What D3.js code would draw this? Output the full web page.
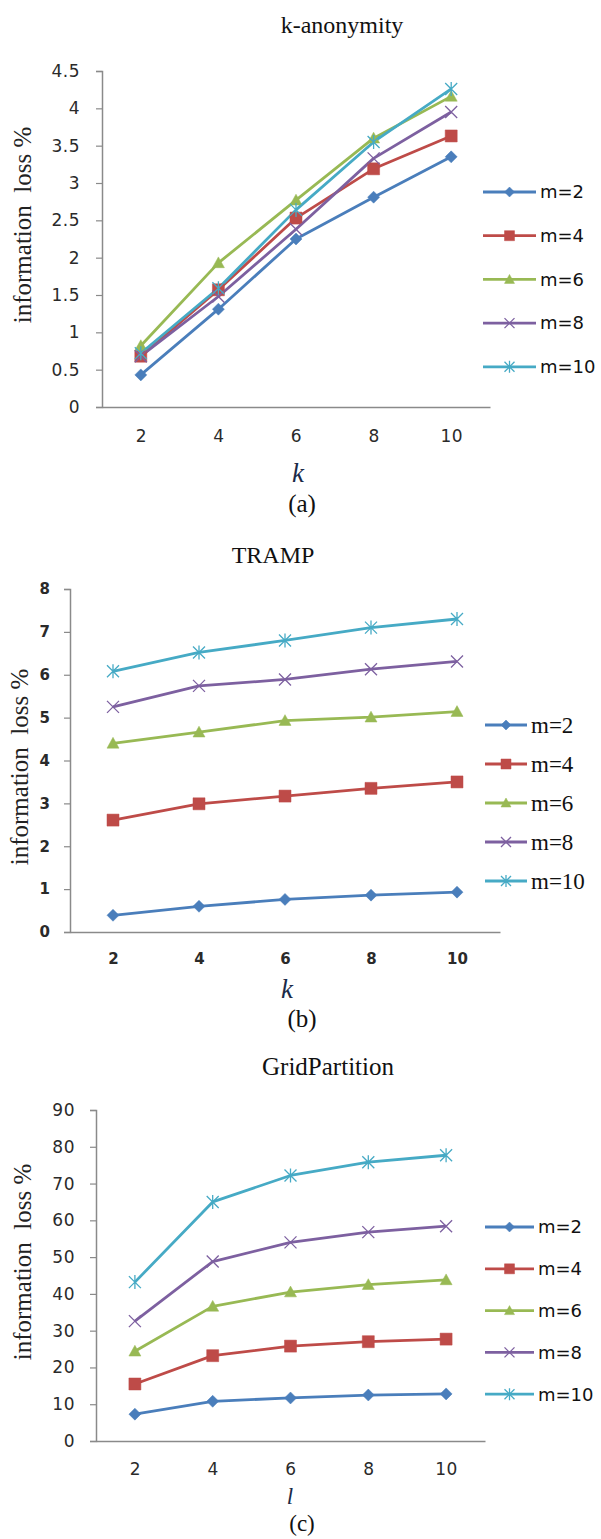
<!DOCTYPE html>
<html><head><meta charset="utf-8">
<script src="https://cdn.jsdelivr.net/npm/d3@7"></script>
<style>body{margin:0;background:#fff}svg{display:block}</style>
</head><body>
<svg id="c" width="601" height="1539"></svg>
<script>
const categories = [2, 4, 6, 8, 10];
const seriesNames = ["m=2", "m=4", "m=6", "m=8", "m=10"];
const colors = ["#4A7EBB", "#BE4B48", "#98B954", "#7D60A0", "#46AAC5"];
const markers = ["diamond", "square", "triangle", "x", "star"];

// (a) k-anonymity
const kAnonValues = [
  [0.43, 1.31, 2.25, 2.81, 3.35],
  [0.68, 1.57, 2.53, 3.19, 3.63],
  [0.82, 1.93, 2.77, 3.60, 4.16],
  [0.68, 1.48, 2.38, 3.33, 3.95],
  [0.72, 1.59, 2.64, 3.55, 4.26]
];
const kAnonTicks = [0, 0.5, 1, 1.5, 2, 2.5, 3, 3.5, 4, 4.5];

// (b) TRAMP
const trampValues = [
  [0.39, 0.60, 0.76, 0.86, 0.93],
  [2.61, 2.99, 3.17, 3.35, 3.50],
  [4.40, 4.66, 4.93, 5.01, 5.14],
  [5.25, 5.74, 5.89, 6.13, 6.31],
  [6.08, 6.52, 6.80, 7.10, 7.30]
];
const trampTicks = [0, 1, 2, 3, 4, 5, 6, 7, 8];

// (c) GridPartition
const gridValues = [
  [7.3, 10.8, 11.7, 12.5, 12.8],
  [15.5, 23.2, 25.8, 27.0, 27.7],
  [24.4, 36.6, 40.5, 42.5, 43.8],
  [32.6, 48.8, 54.0, 56.8, 58.4],
  [43.2, 65.0, 72.2, 75.8, 77.7]
];
const gridTicks = [0, 10, 20, 30, 40, 50, 60, 70, 80, 90];

const svg = d3.select("#c");
const SERIF = "Liberation Serif, Times New Roman, serif";
const SANS = "DejaVu Sans, Verdana, sans-serif";

function markerPath(type, s) {
  const h = s / 2;
  switch (type) {
    case "diamond": return `M0,${-h}L${h},0L0,${h}L${-h},0Z`;
    case "square": return `M${-h},${-h}H${h}V${h}H${-h}Z`;
    case "triangle": return `M0,${-h}L${h},${h*0.8}L${-h},${h*0.8}Z`;
    case "x": return `M${-h},${-h}L${h},${h}M${h},${-h}L${-h},${h}`;
    case "star": return `M${-h},${-h}L${h},${h}M${h},${-h}L${-h},${h}M0,${-h-1}V${h+1}`;
  }
}
function drawMarker(g, type, x, y, color, s) {
  const filled = type !== "x" && type !== "star";
  g.append("path").attr("d", markerPath(type, s))
    .attr("transform", `translate(${x},${y})`)
    .attr("fill", filled ? color : "none")
    .attr("stroke", color)
    .attr("stroke-width", filled ? 0.5 : 1.3);
}

function panel(cfg) {
  const g = svg.append("g");
  const x = d3.scalePoint().domain(categories).range([cfg.left, cfg.right]).padding(0.5);
  const y = d3.scaleLinear().domain([cfg.ticks[0], cfg.ticks[cfg.ticks.length - 1]]).range([cfg.bottom, cfg.top]);

  g.append("text").attr("x", cfg.titleX).attr("y", cfg.titleY)
    .attr("text-anchor", "middle").attr("font-family", SERIF)
    .attr("font-size", cfg.titleSize).attr("fill", "#111").text(cfg.title);

  const ya = g.append("g").attr("transform", `translate(${cfg.left},0)`)
    .call(d3.axisLeft(y).tickValues(cfg.ticks).tickSize(6).tickPadding(cfg.tickPad).tickFormat(d3.format("")));
  ya.select(".domain").attr("stroke", "#8a8a8a").attr("stroke-width", 1.5);
  ya.selectAll(".tick line").attr("stroke", "#8a8a8a").attr("stroke-width", 1.2);
  ya.selectAll(".tick text").attr("font-family", SANS).attr("font-weight", cfg.tickWeight)
    .attr("font-size", cfg.tickSize).attr("letter-spacing", cfg.tickLS).attr("fill", "#2a2a2a");

  const xa = g.append("g").attr("transform", `translate(0,${cfg.bottom})`)
    .call(d3.axisBottom(x).tickSize(0).tickPadding(cfg.xPad));
  xa.select(".domain").attr("stroke", "#8a8a8a").attr("stroke-width", 1.5);
  xa.selectAll(".tick text").attr("font-family", SANS).attr("font-weight", cfg.tickWeight)
    .attr("font-size", cfg.tickSize).attr("letter-spacing", cfg.tickLS).attr("fill", "#2a2a2a");

  g.append("text").attr("transform", `translate(${cfg.yLabelX},${cfg.yLabelY}) rotate(-90)`)
    .attr("text-anchor", "middle").attr("font-family", SERIF).style("white-space", "pre")
    .attr("font-size", cfg.yLabelSize).attr("fill", "#222").text("information  loss %");
  g.append("text").attr("x", cfg.xLabelX).attr("y", cfg.xLabelY)
    .attr("text-anchor", "middle").attr("font-family", SERIF)
    .attr("font-style", "italic").attr("font-size", cfg.xLabelSize).attr("fill", "#1a2a48").text(cfg.xLabel);
  g.append("text").attr("x", cfg.capX).attr("y", cfg.capY)
    .attr("text-anchor", "middle").attr("font-family", SERIF)
    .attr("font-size", cfg.capSize).attr("fill", "#111").text(cfg.caption);

  const line = d3.line().x((d, i) => x(categories[i])).y(d => y(d));
  cfg.values.forEach((vals, si) => {
    g.append("path").attr("d", line(vals)).attr("fill", "none")
      .attr("stroke", colors[si]).attr("stroke-width", 2.8).attr("stroke-linejoin", "round");
  });
  cfg.values.forEach((vals, si) => {
    vals.forEach((v, i) => drawMarker(g, markers[si], x(categories[i]), y(v), colors[si], cfg.markerSize));
  });

  seriesNames.forEach((name, si) => {
    const ly = cfg.legY + si * cfg.legStep;
    g.append("line").attr("x1", cfg.legX1).attr("x2", cfg.legX2).attr("y1", ly).attr("y2", ly)
      .attr("stroke", colors[si]).attr("stroke-width", 2.8);
    drawMarker(g, markers[si], (cfg.legX1 + cfg.legX2) / 2, ly, colors[si], cfg.markerSize - 2);
    g.append("text").attr("x", cfg.legX2 + 4).attr("y", ly).attr("dy", "0.35em")
      .attr("font-family", cfg.legFont).attr("font-size", cfg.legSize).attr("fill", "#111").text(name);
  });
}

panel({
  title: "k-anonymity", titleX: 342, titleY: 33, titleSize: 24,
  values: kAnonValues, ticks: kAnonTicks,
  left: 102, right: 490, top: 71, bottom: 407, tickSize: 17, tickWeight: "normal", tickLS: 0.5, tickPad: 16, xPad: 23,
  yLabelX: 31, yLabelY: 225, yLabelSize: 25,
  xLabel: "k", xLabelX: 298, xLabelY: 482, xLabelSize: 27, caption: "(a)", capX: 302, capY: 512, capSize: 25,
  markerSize: 12,
  legX1: 483, legX2: 536, legY: 192, legStep: 43.7, legFont: SANS, legSize: 18
});

panel({
  title: "TRAMP", titleX: 273, titleY: 563, titleSize: 24,
  values: trampValues, ticks: trampTicks,
  left: 70, right: 500, top: 589, bottom: 932, tickSize: 15, tickWeight: "bold", tickLS: 0, tickPad: 14, xPad: 21,
  yLabelX: 28, yLabelY: 767, yLabelSize: 25,
  xLabel: "k", xLabelX: 287, xLabelY: 998, xLabelSize: 27, caption: "(b)", capX: 302, capY: 1027, capSize: 25,
  markerSize: 12,
  legX1: 485, legX2: 527, legY: 725, legStep: 39, legFont: SERIF, legSize: 23
});

panel({
  title: "GridPartition", titleX: 328, titleY: 1075, titleSize: 25,
  values: gridValues, ticks: gridTicks,
  left: 96, right: 485, top: 1110, bottom: 1441, tickSize: 17, tickWeight: "normal", tickLS: 0.5, tickPad: 15, xPad: 22,
  yLabelX: 31, yLabelY: 1262, yLabelSize: 25,
  xLabel: "l", xLabelX: 290, xLabelY: 1504, xLabelSize: 23, caption: "(c)", capX: 302, capY: 1531, capSize: 23,
  markerSize: 12,
  legX1: 485, legX2: 534, legY: 1227, legStep: 41.8, legFont: SANS, legSize: 18
});
</script>
</body></html>
